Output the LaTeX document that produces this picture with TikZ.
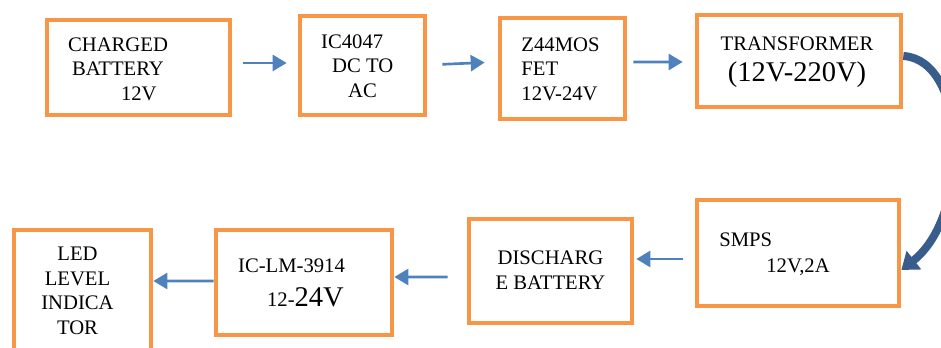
\documentclass[tikz,border=0pt]{standalone}
\usepackage{fontspec}
\setmainfont{Liberation Serif}
\definecolor{BoxOrange}{RGB}{247,150,70}
\definecolor{FlowBlue}{RGB}{79,129,189}
\definecolor{TurnBlue}{RGB}{56,93,140}
\usetikzlibrary{arrows.meta,positioning,calc}
\newcommand{\lrg}{\fontsize{21.4}{25}\selectfont}

\begin{document}
\begin{tikzpicture}[x=0.75pt,y=-0.75pt,
  block/.style 2 args={draw=BoxOrange,line width=3.5pt,minimum width=#1*0.75pt,minimum height=#2*0.75pt,inner sep=0pt},
  txt/.style={inner sep=0pt,font=\fontsize{15.5}{18.4}\selectfont},
  flow/.style={FlowBlue,line width=2pt,-{Triangle[length=10.5pt,width=12pt]}},
  turn/.style={TurnBlue,line width=6pt,-{Triangle[length=12pt,width=17pt]}}]
\useasboundingbox (0,0) rectangle (941,348);
\clip (0,0) rectangle (941,348);
% top row
\node[block={183}{95}] (bat) at (138.5,67.5) {};
\node[txt,align=left] (battxt) at (118,69) {CHARGED\\\hspace*{3pt}BATTERY\\\hspace*{39.75pt}12V};
\node[block={125}{99}] (ic) at (362.5,65.5) {};
\node[txt,align=left] (ictxt) at (357.2,66) {IC4047\\\hspace*{8.25pt}DC TO\\\hspace*{20.25pt}AC};
\node[block={125}{101}] (fet) at (562.5,68.5) {};
\node[txt,align=left] (fettxt) at (560.5,69) {Z44MOS\\FET\\12V-24V};
\node[block={204}{92}] (trans) at (799,61) {};
\node[txt,align=center] (transtxt) at (797,62.5) {TRANSFORMER\\[4.9pt]{\lrg (12V-220V)}};
% bottom row
\node[block={202}{106}] (smps) at (798,253) {};
\node[txt,align=left] (smpstxt) at (774.5,254.5) {SMPS\\[1.1pt]\hspace*{35.25pt}12V,2A};
\node[block={163}{104}] (dis) at (550.5,271) {};
\node[txt,align=center] (distxt) at (550.5,270) {DISCHARG\\E BATTERY};
\node[block={176}{105}] (lm) at (304,282.5) {};
\node[txt,align=left] (lmtxt) at (291.5,283) {IC-LM-3914\\[7pt]\hspace*{21.75pt}12-{\lrg 24V}};
\node[block={137}{120}] (led) at (82.5,290) {};
\node[txt,align=center] (ledtxt) at (77.5,291) {LED\\LEVEL\\INDICA\\TOR};
% arrows
\draw[flow,shorten <=8.25pt,shorten >=8.25pt] ([yshift=3.4pt]bat.east) -- ([yshift=1.9pt]ic.west);
\draw[flow,shorten <=11.25pt,shorten >=9.75pt] ([yshift=0.4pt]ic.east) -- ([yshift=4.9pt]fet.west);
\draw[flow,shorten <=4.5pt,shorten >=9pt] ([yshift=4.9pt]fet.east) -- ([yshift=-0.75pt]trans.west);
\draw[turn] ([yshift=3.75pt]trans.east) .. controls +(65,4) and +(70,-55) .. ([yshift=-12.75pt]smps.east);
\draw[flow,shorten <=9pt,shorten >=1.5pt] ([yshift=-4.5pt]smps.west) -- ([yshift=9pt]dis.east);
\draw[flow,shorten <=14.25pt] ([yshift=-4.5pt]dis.west) -- ([yshift=4.1pt]lm.east);
\draw[flow] ([yshift=1.1pt]lm.west) -- ([yshift=6.75pt]led.east);
\end{tikzpicture}
\end{document}
